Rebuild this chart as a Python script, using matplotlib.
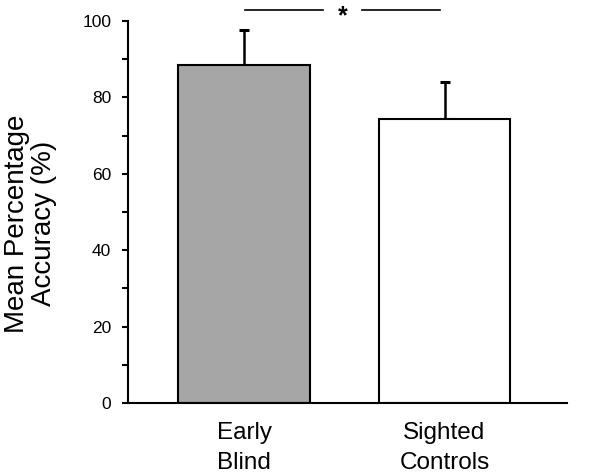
import matplotlib
matplotlib.use("Agg")
import matplotlib.pyplot as plt

categories = ["Early\nBlind", "Sighted\nControls"]
means = [88.5, 74.3]
errors_upper = [9.1, 9.7]
colors = ["#a6a6a6", "#ffffff"]
y_ticks = [0, 20, 40, 60, 80, 100]

plt.rcParams['font.family'] = ['Liberation Sans', 'DejaVu Sans']

fig = plt.figure(figsize=(6.01, 4.76), dpi=100)
ax = fig.add_axes([128/601, 1-403/476, (567-128)/601, (403-21)/476])

x = [0, 1]
ax.bar(x, means, width=0.658, color=colors, edgecolor="black", linewidth=1.5, zorder=2)
ax.errorbar(x, means, yerr=[[0, 0], errors_upper], fmt="none", ecolor="black",
            elinewidth=1.8, capsize=3.6, capthick=2.2, zorder=1)

ax.set_xlim(-0.579, 1.611)
ax.set_ylim(0, 100)
ax.set_xticks(x)
ax.set_xticklabels(categories, fontsize=17.5, linespacing=1.45)
ax.tick_params(axis="x", length=0, pad=14)
ax.set_yticks(y_ticks)
ax.set_yticks([10, 30, 50, 70, 90], minor=True)
ax.tick_params(axis="y", which="major", length=4, width=1.5, labelsize=12.5, pad=8)
ax.tick_params(axis="y", which="minor", length=4, width=1.5)
for s in ["top", "right"]:
    ax.spines[s].set_visible(False)
ax.spines["left"].set_linewidth(1.5)
ax.spines["bottom"].set_linewidth(1.5)

ax.set_ylabel("Mean Percentage\nAccuracy (%)", fontsize=20, linespacing=1.05)
ax.yaxis.set_label_coords(-0.162, 0.47)

sig_y = 102.9
ax.plot([0.005, 0.394], [sig_y, sig_y], color="black", lw=1.2, clip_on=False)
ax.plot([0.589, 0.978], [sig_y, sig_y], color="black", lw=1.2, clip_on=False)
ax.text(0.49, sig_y - 1.8, "*", ha="center", va="center", fontsize=18, fontweight="bold")

fig.savefig("out.png", dpi=100)
